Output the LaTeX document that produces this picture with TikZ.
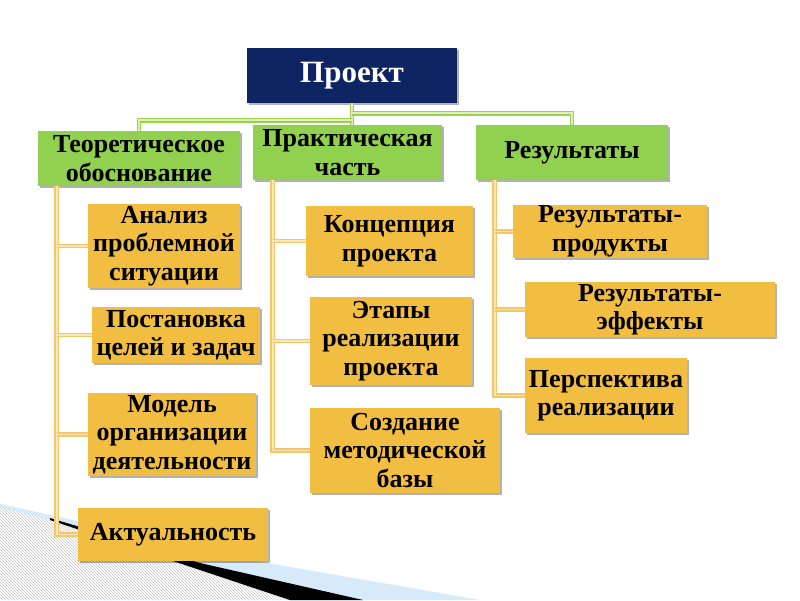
\documentclass[tikz,border=0pt]{standalone}
\usepackage{fontspec}
\setmainfont{Liberation Serif}
\usetikzlibrary{shadows,patterns,calc}
\definecolor{navy}{HTML}{0F2462}
\definecolor{boxgreen}{HTML}{92D050}
\definecolor{boxorange}{HTML}{F2BE42}
\definecolor{lgreen}{HTML}{9CD14C}
\definecolor{lgreenin}{HTML}{DDF0BC}
\definecolor{lorange}{HTML}{F5C668}
\definecolor{lorangein}{HTML}{FBE6BA}
\definecolor{wedgeblue}{HTML}{D6EAFA}
\begin{document}
\begin{tikzpicture}[x=1pt,y=-1pt,
  box/.style={rectangle, inner sep=0pt, align=center,
    font=\bfseries\fontsize{26}{28.5}\selectfont,
    drop shadow={shadow xshift=1.5pt, shadow yshift=-2pt, opacity=0.3, fill=black}},
  gbox/.style={box, fill=boxgreen, minimum height=55pt},
  obox/.style={box, fill=boxorange},
  gline/.style={draw=lgreen, line width=1.6pt, double=lgreenin, double distance=1.5pt},
  oline/.style={draw=lorange, line width=1.6pt, double=lorangein, double distance=1.5pt}]
\useasboundingbox (0,0) rectangle (800,600);
% bottom decoration
\fill[wedgeblue] (0,504) -- (267,563) -- (480,600) -- (0,600) -- cycle;
\fill[white] (0,507) -- (50,520) -- (200,570) -- (290,600) -- (0,600) -- cycle;
\fill[pattern=north west lines, pattern color=gray!45] (0,507) -- (50,520) -- (200,570) -- (290,600) -- (0,600) -- cycle;
\fill[black] (50,518) -- (200,563) -- (363,600) -- (290,600) -- (200,570) -- (50,520) -- cycle;

% nodes
\node[box, fill=navy, text=white, minimum width=210pt, minimum height=55pt,
  font=\bfseries\fontsize{31}{34}\selectfont] (P) at (352,75.5) {Проект};
\node[gbox, minimum width=202pt] (T) at (139,158.5) {Теоретическое\\обоснование};
\node[gbox, minimum width=189pt] (Pr) at (347.5,152.5) {Практическая\\часть};
\node[gbox, minimum width=192pt] (R) at (572,152.5) {Результаты};

\node[obox, minimum width=152pt, minimum height=84pt] (A1) at (164,246) {Анализ\\проблемной\\ситуации};
\node[obox, minimum width=168pt, minimum height=56pt] (A2) at (176,335) {Постановка\\целей и задач};
\node[obox, minimum width=168pt, minimum height=83pt] (A3) at (172,434.5) {Модель\\организации\\деятельности};
\node[obox, minimum width=190pt, minimum height=53pt] (A4) at (173,534.5) {Актуальность};

\node[obox, minimum width=167pt, minimum height=70pt] (B1) at (389.5,241) {Концепция\\проекта};
\node[obox, minimum width=162pt, minimum height=88pt] (B2) at (391,341) {Этапы\\реализации\\проекта};
\node[obox, minimum width=190pt, minimum height=85pt] (B3) at (405,450.5) {Создание\\методической\\базы};

\node[obox, minimum width=194pt, minimum height=53pt] (C1) at (610,231.5) {Результаты-\\продукты};
\node[obox, minimum width=250pt, minimum height=55pt] (C2) at (650,309.5) {Результаты-\\эффекты};
\node[obox, minimum width=162pt, minimum height=75pt] (C3) at (606,395.5) {Перспектива\\реализации};

% green connectors
\coordinate (jL) at ($(P.south)+(0,17)$);
\coordinate (jR) at ($(P.south)+(0,10)$);
\draw[gline] (P.south) -- (P.south |- Pr.north);
\draw[gline] (jL) -| (T.north);
\draw[gline] (jR) -| (R.north);

% orange connectors
\coordinate (c1) at ($(T.south west)+(19,0)$);
\coordinate (c2) at ($(Pr.south west)+(20,0)$);
\coordinate (c3) at ($(R.south west)+(19,0)$);
\draw[oline] (c1) |- (A4.west);
\draw[oline] (c1 |- A1.west) -- (A1.west);
\draw[oline] (c1 |- A2.west) -- (A2.west);
\draw[oline] (c1 |- A3.west) -- (A3.west);
\draw[oline] (c2) |- (B3.west);
\draw[oline] (c2 |- B1.west) -- (B1.west);
\draw[oline] (c2 |- B2.west) -- (B2.west);
\draw[oline] (c3) |- (C3.west);
\draw[oline] (c3 |- C1.west) -- (C1.west);
\draw[oline] (c3 |- C2.west) -- (C2.west);
\end{tikzpicture}
\end{document}
